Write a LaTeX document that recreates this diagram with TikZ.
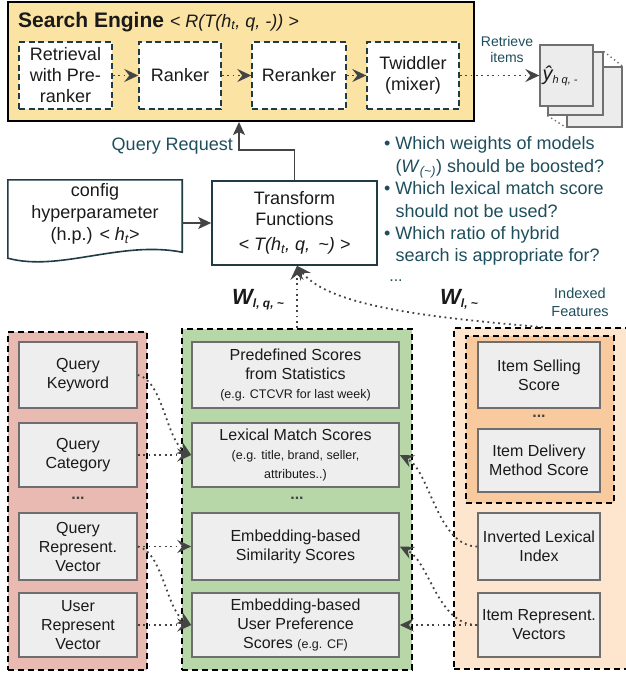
\documentclass[tikz,border=0pt]{standalone}
\usepackage{fontspec}
\setmainfont{Liberation Sans}
\usetikzlibrary{arrows.meta,calc}
\definecolor{seyellow}{HTML}{FBE3A3}
\definecolor{redfill}{HTML}{E8BAB2}
\definecolor{grnfill}{HTML}{B7D7A9}
\definecolor{orgout}{HTML}{FDE6CD}
\definecolor{orgin}{HTML}{F8CA9E}
\definecolor{bxfill}{HTML}{EEEEEE}
\definecolor{bxgray}{HTML}{6E6E6E}
\definecolor{tealdk}{HTML}{1F3B45}
\definecolor{tealtx}{HTML}{1E4E5C}
\definecolor{argray}{HTML}{444444}
\definecolor{pfill}{HTML}{ECECEC}
\definecolor{pgray}{HTML}{707070}
\definecolor{txtdark}{HTML}{1A1A1A}
\begin{document}
\begin{tikzpicture}[x=1pt,y=1pt,
  base/.style={inner sep=0pt, align=center, text=txtdark},
  seb/.style={base, draw=tealdk, fill=white, line width=1.4pt, dash pattern=on 6pt off 3.5pt, minimum height=67pt, font=\fontsize{18}{21}\selectfont},
  itm/.style={base, draw=bxgray, fill=bxfill, line width=1.5pt, font=\fontsize{16}{19}\selectfont},
  grp/.style={draw=black, line width=1.5pt, dash pattern=on 6pt off 4pt, inner sep=0pt},
  dotarr/.style={draw=argray, line width=1.8pt, dash pattern=on 1.8pt off 3.6pt, -{Stealth[length=14pt,width=13pt,inset=5pt,fill=argray]}},
  solarr/.style={draw=argray, line width=1.7pt, -{Stealth[length=13pt,width=12pt,inset=3pt]}},
  tealtxt/.style={inner sep=0pt, text=tealtx},
  page/.style={draw=pgray, fill=pfill, line width=1.3pt, inner sep=0pt},
  pgdot/.style={draw=pgray, line width=1.4pt, dash pattern=on 1.4pt off 3pt},
  dots/.style={inner sep=0pt, text=argray, font=\fontsize{16}{16}\selectfont\bfseries},
  sm/.style={font=\fontsize{12.5}{15}\selectfont}
]
\useasboundingbox (0,0) rectangle (626,-675);
\clip (0,0) rectangle (626,-675);

% ---------- Search engine ----------
\node[draw=black, line width=2pt, fill=seyellow, minimum width=466pt, minimum height=119pt, inner sep=0pt] (se) at (241,-61.5) {};
\node[anchor=west, inner sep=0pt, text=txtdark] (setitle) at (18,-22)
  {\fontsize{21}{24}\selectfont\bfseries Search Engine \mdseries\itshape\fontsize{18}{22}\selectfont < R(T(h\textsubscript{t}, q, -)) >};
\node[seb, minimum width=93pt] (ret) at (65.5,-75.5) {Retrieval\\with Pre-\\ranker};
\node[seb, minimum width=82pt] (rk) at (180,-75.5) {Ranker};
\node[seb, minimum width=94pt] (rr) at (299,-75.5) {Reranker};
\node[seb, minimum width=92pt] (tw) at (413,-75.5) {Twiddler\\(mixer)};

% ---------- retrieved items stack ----------
\node[page, minimum width=55pt, minimum height=60pt] (pg3) at (594.5,-97) {};
\node[page, minimum width=55pt, minimum height=63pt] (pg2) at (575.5,-83.5) {};
\node[page, minimum width=53pt, minimum height=61pt] (front) at (566.5,-75.5) {};
\draw[pgdot] (pg2.north east) -- (pg3.north east);
\draw[pgdot] (pg2.south west) -- (pg3.south west);
\node[anchor=west, inner sep=0pt, xshift=3pt, text=txtdark] (yhat) at (front.west)
  {\fontsize{20}{20}\selectfont\itshape ŷ\raisebox{-3pt}{\fontsize{11}{11}\selectfont h q, -}};
\node[tealtxt, align=center, font=\fontsize{14}{16}\selectfont] (retr) at (507,-49) {Retrieve\\items};

% ---------- transform & config ----------
\node[draw=tealdk, line width=1.6pt, fill=white, minimum width=165pt, minimum height=84pt, base, font=\fontsize{18}{21}\selectfont] (tf) at (294.5,-223)
  {Transform\\Functions\\[4pt]{\itshape < T(h\textsubscript{t}, q,\, \textasciitilde) >}};
\node[base, minimum width=174pt, minimum height=68pt, font=\fontsize{18}{22}\selectfont] (cfg) at (95,-214)
  {config\\hyperparameter\\(h.p.) {\itshape < h\textsubscript{t}>}};
\draw[tealdk, line width=1.6pt] (cfg.north west) -- (cfg.north east) -- ([yshift=-4pt]cfg.south east)
  .. controls +(-62,12) and +(52,-14) .. ([yshift=-10pt]cfg.south west) -- cycle;
\draw[solarr] (cfg.east |- tf.west) -- (tf.west);

\coordinate (qbend) at (239,-150);
\draw[solarr] (tf.north) |- (qbend) -- (qbend |- se.south);
\node[tealtxt, anchor=east, font=\fontsize{18}{21}\selectfont] (qreq) at (233,-146) {Query Request};

% ---------- questions ----------
\node[tealtxt, anchor=north west, font=\fontsize{18}{22.4}\selectfont] (quest) at (384,-134)
  {\begin{tabular}{@{}l@{\hspace{5pt}}l@{}}
   \textbullet & Which weights of models\\
   & (\textit{W}\textsubscript{\textit{(\textasciitilde)}}) should be boosted?\\
   \textbullet & Which lexical match score\\
   & should not be used?\\
   \textbullet & Which ratio of hybrid\\
   & search is appropriate for?
  \end{tabular}};
\node[tealtxt, font=\fontsize{16}{16}\selectfont] (qdots) at (396,-281) {...};

% ---------- weights labels ----------
\node[anchor=west, inner sep=0pt, text=txtdark] (wlq) at (232,-300)
  {\fontsize{22}{22}\selectfont\bfseries\itshape W\raisebox{-3pt}{\fontsize{12}{12}\selectfont l, q, \textasciitilde}};
\node[anchor=west, inner sep=0pt, text=txtdark] (wl) at (440,-299)
  {\fontsize{22}{22}\selectfont\bfseries\itshape W\raisebox{-3pt}{\fontsize{12}{12}\selectfont l, \textasciitilde}};
\node[tealtxt, align=center, font=\fontsize{14.5}{18}\selectfont] (idxf) at (580,-302) {Indexed\\Features};

% ---------- groups ----------
\node[grp, fill=redfill, minimum width=139pt, minimum height=338pt] (rg) at (77.5,-501) {};
\node[grp, fill=grnfill, minimum width=230pt, minimum height=341pt] (gg) at (297,-499.5) {};
\node[grp, fill=orgout, minimum width=178pt, minimum height=341pt] (og) at (543,-498.5) {};
\node[grp, fill=orgin, minimum width=148pt, minimum height=167pt] (oi) at (540,-419.5) {};

% query side
\node[itm, minimum width=118pt, minimum height=66pt] (qk) at (78,-375) {Query\\Keyword};
\node[itm, minimum width=118pt, minimum height=64pt] (qc) at (78,-455) {Query\\Category};
\node[dots] (rdots) at (78,-498) {...};
\node[itm, minimum width=118pt, minimum height=67pt] (qrv) at (78,-546.5) {Query\\Represent.\\Vector};
\node[itm, minimum width=118pt, minimum height=64pt] (urv) at (78,-625) {User\\Represent\\Vector};

% scores
\node[itm, minimum width=207pt, minimum height=66pt] (ps) at (295.5,-375)
  {Predefined Scores\\from Statistics\\{\fontsize{12.5}{15}\selectfont (e.g. CTCVR for last week)}};
\node[itm, minimum width=207pt, minimum height=64pt] (lm) at (295.5,-455)
  {Lexical Match Scores\\{\fontsize{12.5}{15}\selectfont (e.g. title, brand, seller,}\\{\fontsize{12.5}{15}\selectfont attributes..)}};
\node[dots] (gdots) at (297,-498) {...};
\node[itm, minimum width=207pt, minimum height=67pt] (es) at (295.5,-546.5) {Embedding-based\\Similarity Scores};
\node[itm, minimum width=207pt, minimum height=64pt] (up) at (295.5,-625)
  {Embedding-based\\User Preference\\Scores {\fontsize{12.5}{15}\selectfont (e.g. CF)}};

% item side
\node[itm, minimum width=122pt, minimum height=66pt] (is) at (539,-375) {Item Selling\\Score};
\node[dots] (odots) at (539,-416) {...};
\node[itm, minimum width=122pt, minimum height=63pt] (id) at (539,-460.5) {Item Delivery\\Method Score};
\node[itm, minimum width=122pt, minimum height=67pt] (il) at (539,-546.5) {Inverted Lexical\\Index};
\node[itm, minimum width=122pt, minimum height=64pt] (irv) at (539,-625) {Item Represent.\\Vectors};

% ---------- connectors ----------
\draw[dotarr] (ret) -- (rk);
\draw[dotarr] (rk) -- (rr);
\draw[dotarr] (rr) -- (tw);
\draw[dotarr] (tw) -- (front);

\draw[dotarr] (gg.north) -- (gg.north |- tf.south);
\draw[dotarr] (og.north) .. controls (440,-318) and (330,-308) .. (gg.north |- tf.south);

\draw[dotarr] (qk.east) .. controls +(25,-5) and +(-25,15) .. (lm.west);
\draw[dotarr] (qc) -- (lm);
\draw[dotarr] (qrv) -- (es);
\draw[dotarr] (qrv.east) .. controls +(25,-5) and +(-25,15) .. (up.west);
\draw[dotarr] (urv) -- (up);

\draw[dotarr] (il.west) .. controls +(-40,0) and +(30,-15) .. (lm.east);
\draw[dotarr] (irv.west) .. controls +(-40,0) and +(30,-15) .. (es.east);
\draw[dotarr] (irv) -- (up);
\end{tikzpicture}
\end{document}
